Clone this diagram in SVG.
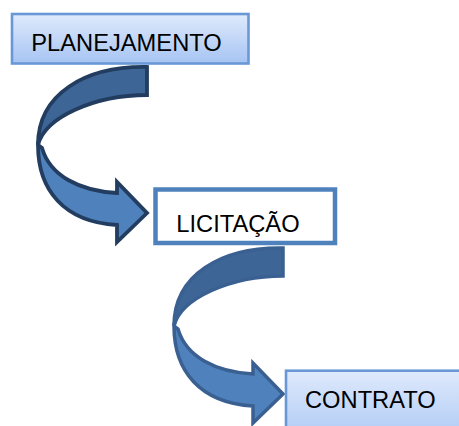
<svg xmlns="http://www.w3.org/2000/svg" width="459" height="426" viewBox="0 0 459 426">
  <defs>
    <linearGradient id="boxGrad" x1="0" y1="0" x2="0" y2="1">
      <stop offset="0" stop-color="#dfeafc"/>
      <stop offset="1" stop-color="#a6c4f3"/>
    </linearGradient>
    <linearGradient id="boxGrad2" x1="0" y1="0" x2="0" y2="1">
      <stop offset="0" stop-color="#dfeafc"/>
      <stop offset="1" stop-color="#a6c4f3"/>
    </linearGradient>
    <style>
      .lbl { font-family: "Liberation Sans", Arial, sans-serif; font-size: 23.7px; fill: #000000; }
      .back { fill: #3d6697; }
      .front { fill: #4f81bd; }
      .a1 { stroke: #223d5f; stroke-width: 3.8; stroke-linejoin: miter; }
      .a2 { stroke: #3a6091; stroke-width: 3.5; stroke-linejoin: miter; }
    </style>
  </defs>
  <rect x="0" y="0" width="459" height="426" fill="#ffffff"/>

  <g id="connectors">
    <g id="arrow1">
      <path class="back a1" d="M147,67 C85,66 38,94 38,145 C45,117 95,95 147,95 Z"/>
      <path class="front a1" d="M38,145 C38,190 64,222 117,225 L117,242 L147,213 L117,182 L117,193 C80,191 50,176 42,148 Z"/>
    </g>
    <g id="arrow2" transform="translate(136,181)">
      <path class="back a2" d="M147,67 C85,66 38,94 38,145 C45,117 95,95 147,95 Z"/>
      <path class="front a2" d="M38,145 C38,190 64,222 117,225 L117,242 L147,213 L117,182 L117,193 C80,191 50,176 42,148 Z"/>
    </g>
  </g>

  <g id="planejamento">
    <rect x="12" y="14" width="236.5" height="49.5" fill="url(#boxGrad)" stroke="#6a98d6" stroke-width="2.6"/>
    <text class="lbl" x="31.3" y="50.5">PLANEJAMENTO</text>
  </g>

  <g id="licitacao">
    <rect x="155.5" y="189.5" width="179.5" height="53.5" fill="#ffffff" stroke="#4f81bd" stroke-width="4.5"/>
    <text class="lbl" x="176.3" y="231.5">LICITAÇÃO</text>
  </g>

  <g id="contrato">
    <rect x="286" y="370.7" width="200" height="80" fill="url(#boxGrad2)" stroke="#6a98d6" stroke-width="2.6"/>
    <text class="lbl" x="305" y="407.7">CONTRATO</text>
  </g>
</svg>
